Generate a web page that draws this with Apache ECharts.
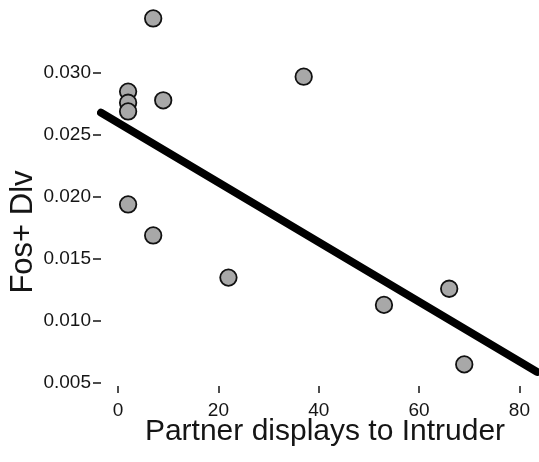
<!DOCTYPE html>
<html><head><meta charset="utf-8">
<script src="https://cdn.jsdelivr.net/npm/echarts@6/dist/echarts.min.js"></script>
<style>html,body{margin:0;padding:0;background:#fff}#c{width:539px;height:462px}</style>
</head><body><div id="c"></div>
<script>
const partnerDisplays = [7, 2, 2, 2, 9, 37, 2, 7, 22, 53, 66, 69];
const fosDlv = [0.0344, 0.0285, 0.0276, 0.0269, 0.0278, 0.0297, 0.0194, 0.0169, 0.0135, 0.0113, 0.0126, 0.0065];
const fitX = [-3.4, 83.5];
const fitY = [0.0268, 0.0059];
const xTicks = [0, 20, 40, 60, 80];
const yTicks = [0.005, 0.010, 0.015, 0.020, 0.025, 0.030];

const chart = echarts.init(document.getElementById('c'), null, {renderer: 'canvas'});
const font = 'Liberation Sans, Arial, sans-serif';
const ink = '#151515';
chart.setOption({
  animation: false,
  grid: {left: 100, right: 2, top: 73, bottom: 79, containLabel: false},
  xAxis: {
    type: 'value', min: fitX[0], max: fitX[1],
    offset: 3,
    axisLine: {show: false, onZero: false},
    axisTick: {show: true, length: 7, customValues: xTicks, lineStyle: {color: ink, width: 1.5}},
    axisLabel: {margin: 15, fontSize: 19, color: ink, fontFamily: font, customValues: xTicks,
      showMinLabel: true, showMaxLabel: true},
    splitLine: {show: false},
    name: 'Partner displays to Intruder', nameLocation: 'middle', nameGap: 31,
    nameMoveOverlap: false,
    nameTextStyle: {fontSize: 30, color: ink, fontFamily: font, padding: [0, 0, 0, 12]}
  },
  yAxis: {
    type: 'value', min: yTicks[0], max: yTicks[yTicks.length-1], interval: 0.005,
    axisLine: {show: false, onZero: false},
    axisTick: {show: true, length: 8, lineStyle: {color: ink, width: 1.5}},
    axisLabel: {margin: 10, fontSize: 19, color: ink, fontFamily: font,
      formatter: v => v.toFixed(3)},
    splitLine: {show: false},
    name: 'Fos+ Dlv', nameLocation: 'middle', nameGap: 62, nameRotate: 90,
    nameMoveOverlap: false,
    nameTextStyle: {fontSize: 31, color: ink, fontFamily: font, padding: [0, 8, 0, 0]}
  },
  series: [
    {
      type: 'line', data: fitX.map((x, i) => [x, fitY[i]]),
      symbol: 'none', clip: false, z: 2,
      lineStyle: {color: '#000', width: 8, cap: 'round'}
    },
    {
      type: 'scatter', data: partnerDisplays.map((x, i) => [x, fosDlv[i]]),
      symbol: 'circle', symbolSize: 16.5, clip: false, z: 3,
      itemStyle: {color: '#a8a8a8', borderColor: '#111', borderWidth: 1.8, opacity: 1}
    }
  ]
});
</script></body></html>
